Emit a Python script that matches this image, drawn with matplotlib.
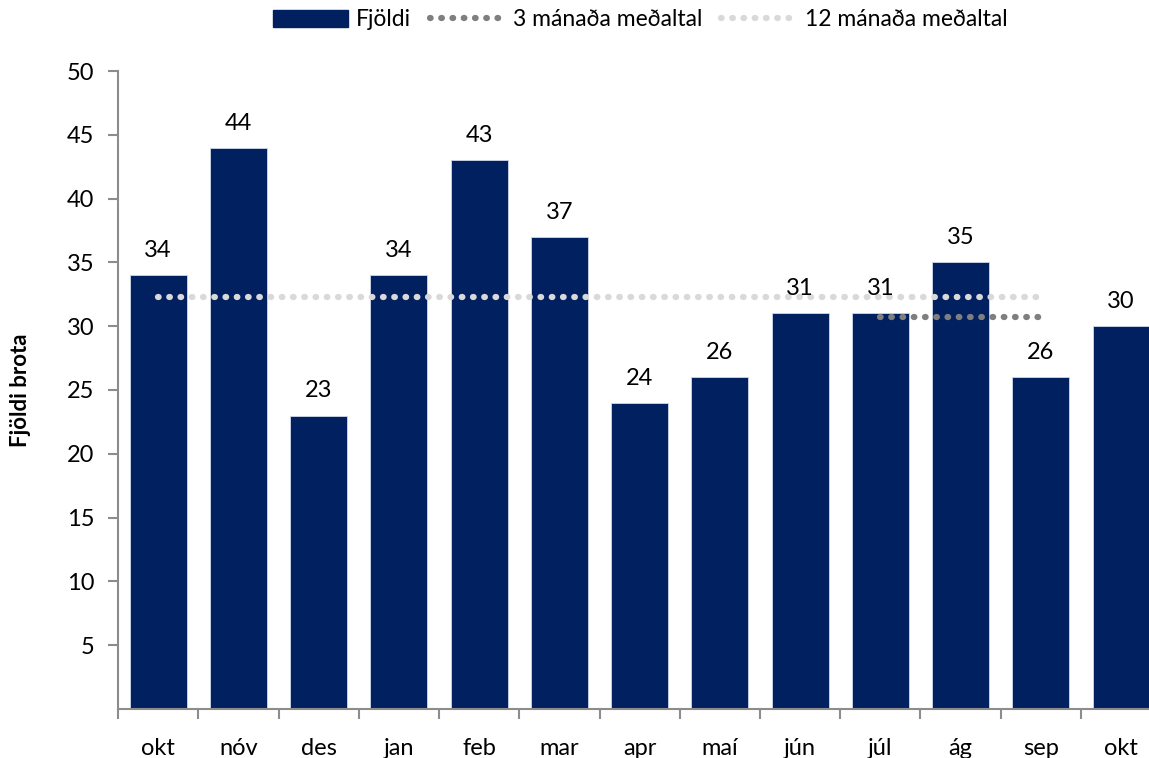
import matplotlib.pyplot as plt
from matplotlib.lines import Line2D
from matplotlib.patches import Patch

plt.rcParams['font.family'] = ['Lato', 'DejaVu Sans']

months = ["okt", "nóv", "des", "jan", "feb", "mar", "apr", "maí",
          "jún", "júl", "ág", "sep", "okt"]
counts = [34, 44, 23, 34, 43, 37, 24, 26, 31, 31, 35, 26, 30]
avg12 = [32.3] * 12          # okt - sep
avg3 = [30.7, 30.7, 30.7]    # júl - sep
avg3_start = 9

NAVY = "#002060"
DARK_DOT = "#7f7f7f"
LIGHT_DOT = "#d9d9d9"
AXIS = "#8c8c8c"
FS = 17

fig = plt.figure(figsize=(11.49, 7.58), dpi=100)
# axes runs slightly past the right edge, like the original
ax = fig.add_axes([118 / 1149, 1 - 709 / 758, (13 * 80.25) / 1149, (709 - 71) / 758])

x = list(range(len(months)))
ax.bar(x, counts, width=0.71, color=NAVY, edgecolor="#d0d8e8", linewidth=0.6, zorder=2)

dot = dict(linewidth=4.5, linestyle=(0, (0.1, 1.7)), dash_capstyle="round",
           solid_capstyle="round", zorder=3)
ax.plot(x[:12], avg12, color=LIGHT_DOT, **dot)
ax.plot(x[avg3_start:avg3_start + 3], avg3, color=DARK_DOT, **dot)

for xi, v in zip(x, counts):
    ax.text(xi, v + 1.1, str(v), ha="center", va="bottom", fontsize=FS, zorder=4)

ax.set_xlim(-0.5, len(months) - 0.5)
ax.set_ylim(0, 50)
ax.set_yticks(range(5, 51, 5))
ax.set_xticks(x)
ax.set_xticklabels(months, fontsize=FS)
ax.set_xticks([i - 0.5 for i in range(len(months) + 1)], minor=True)
ax.tick_params(axis="x", which="major", length=0, pad=21)
ax.tick_params(axis="x", which="minor", length=7, width=1.5, color=AXIS, direction="out")
ax.tick_params(axis="y", length=7, width=1.5, color=AXIS, labelsize=FS, pad=10)

for s in ["top", "right"]:
    ax.spines[s].set_visible(False)
for s in ["left", "bottom"]:
    ax.spines[s].set_color(AXIS)
    ax.spines[s].set_linewidth(1.5)

ax.set_ylabel("Fjöldi brota", fontsize=16, fontweight="bold", labelpad=26)

handles = [
    Patch(facecolor=NAVY, edgecolor=NAVY),
    Line2D([0], [0], color=DARK_DOT, **dot),
    Line2D([0], [0], color=LIGHT_DOT, **dot),
]
labels = ["Fjöldi", "3 mánaða meðaltal", "12 mánaða meðaltal"]
fig.legend(handles, labels, loc="center", bbox_to_anchor=(640 / 1149, 1 - 20 / 758),
           ncol=3, frameon=False, fontsize=16.5, handlelength=3.3, handleheight=0.7,
           columnspacing=0.8, handletextpad=0.35)

fig.savefig("out.png", dpi=100)
